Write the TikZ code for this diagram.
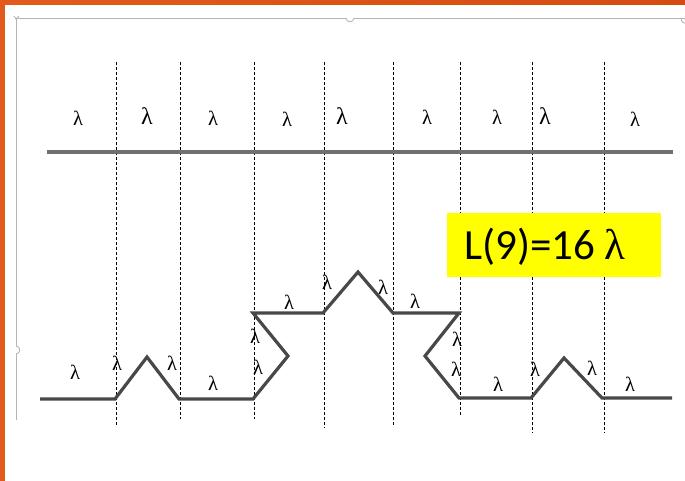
\documentclass[tikz,border=0pt]{standalone}
\usepackage{fontspec}
\newfontfamily\boxfont{Carlito}
\newfontfamily\lamfont{Liberation Serif}
\definecolor{frameorange}{HTML}{E25A1C}
\definecolor{frameorangeB}{HTML}{D64C10}
\definecolor{curvegray}{HTML}{484848}
\definecolor{topgray}{HTML}{707070}
\definecolor{selgray}{HTML}{B4B4B4}
\definecolor{boxyellow}{HTML}{FFFF00}
\newcommand{\lam}{λ}
\begin{document}
\begin{tikzpicture}[x=1pt,y=-1pt,
  lam/.style={inner sep=0pt,font=\lamfont\fontsize{20.5}{20.5}\selectfont},
  biglam/.style={inner sep=0pt,font=\lamfont\fontsize{24}{24}\selectfont},
  guide/.style={black,line width=0.6pt,dash pattern=on 3pt off 2pt},
  curve/.style={curvegray,line width=3.2pt,line join=miter},
  selframe/.style={selgray,line width=0.9pt}]
\useasboundingbox (0,0) rectangle (685,481);
% orange slide frame
\shade[left color=frameorange,right color=frameorangeB] (0,0) rectangle (685,5);
\fill[frameorange] (0,0) rectangle (5,481);
% selection frame of the picture
\draw[selframe] (15,18) -- (685,18);
\draw[selframe] (16,18) -- (16,420);
\draw[selframe,fill=white] (346,18) .. controls (346,23) and (354,23) .. (354,18);
\draw[selframe,fill=white] (16,346) .. controls (21,346) and (21,354) .. (16,354);
\draw[selframe] (681,18) .. controls (681,23) and (685,23) .. (685,23);
\draw[selframe] (14,16) -- (16,19) -- (19,16);
% dashed guides
\foreach \x/\yb in {116/426,180/419,254/419,324/428,393/425,460/416,532/433,604/433}
  \draw[guide] (\x,62) -- (\x,\yb);
% top straight line
\coordinate (t0) at (47,152);
\coordinate (t1) at (673,152);
\draw[topgray,line width=3.4pt] (t0) -- (t1);
% top labels
\node[lam] (a1) at (78,118) {\lam};
\node[biglam] (a2) at (147,116) {\lam};
\node[lam] (a3) at (213,118) {\lam};
\node[lam] (a4) at (287,119) {\lam};
\node[biglam] (a5) at (342,116) {\lam};
\node[lam] (a6) at (427,117) {\lam};
\node[lam] (a7) at (497,117) {\lam};
\node[biglam] (a8) at (545,116) {\lam};
\node[lam] (a9) at (635,119) {\lam};
% bottom curve points
\coordinate (p0) at (40,399);
\coordinate (p1) at (115,399);
\coordinate (p2) at (147,357);
\coordinate (p3) at (179,399);
\coordinate (p4) at (253,399);
\coordinate (p5) at (288,356);
\coordinate (p6) at (253,313);
\coordinate (p7) at (323,313);
\coordinate (p8) at (358,272);
\coordinate (p9) at (393,313);
\coordinate (p10) at (459,313);
\coordinate (p11) at (425,356);
\coordinate (p12) at (459,398);
\coordinate (p13) at (531,398);
\coordinate (p14) at (564,358);
\coordinate (p15) at (602,398);
\coordinate (p16) at (672,398);
\draw[curve] (p0) -- (p1) -- (p2) -- (p3) -- (p4) -- (p5) -- (p6) -- (p7) -- (p8)
  -- (p9) -- (p10) -- (p11) -- (p12) -- (p13) -- (p14) -- (p15) -- (p16);
% bottom labels
\node[lam] (b1) at (75,372) {\lam};
\node[lam] (b2) at (117,363) {\lam};
\node[lam] (b3) at (172,363) {\lam};
\node[lam] (b4) at (213,383) {\lam};
\node[lam] (b5) at (255,336) {\lam};
\node[lam] (b6) at (258,367) {\lam};
\node[lam] (b7) at (289,302) {\lam};
\node[lam] (b8) at (327,282) {\lam};
\node[lam] (b9) at (383,287) {\lam};
\node[lam] (b10) at (415,301) {\lam};
\node[lam] (b11) at (457,339) {\lam};
\node[lam] (b12) at (456,369) {\lam};
\node[lam] (b13) at (498,384) {\lam};
\node[lam] (b14) at (535,369) {\lam};
\node[lam] (b15) at (592,368) {\lam};
\node[lam] (b16) at (630,384) {\lam};
% yellow result box
\node[fill=boxyellow,minimum width=214pt,minimum height=64pt,inner sep=0pt] (box) at (554,245) {};
\node[anchor=west,inner sep=0pt,font=\boxfont\fontsize{43}{43}\selectfont] (res) at (464,247) {L(9)=16 {\lamfont\lam}};
\end{tikzpicture}
\end{document}
